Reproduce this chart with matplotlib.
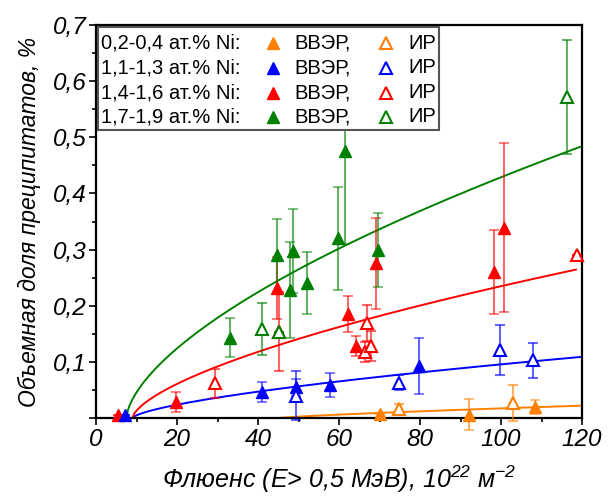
import numpy as np
import matplotlib
matplotlib.use("Agg")
import matplotlib.pyplot as plt
from matplotlib.ticker import MultipleLocator, FuncFormatter
from matplotlib.patches import Rectangle
from matplotlib.colors import to_rgba

plt.rcParams['font.family'] = ['Liberation Sans', 'DejaVu Sans']
plt.rcParams['mathtext.fontset'] = 'custom'
plt.rcParams['mathtext.rm'] = 'Liberation Sans:italic'
plt.rcParams['mathtext.it'] = 'Liberation Sans:italic'

# Группы по содержанию никеля
groups = ["0,2-0,4 ат.% Ni:", "1,1-1,3 ат.% Ni:", "1,4-1,6 ат.% Ni:", "1,7-1,9 ат.% Ni:"]
colors = ["#FF8000", "#0000FF", "#FF0000", "#008000"]

# ВВЭР (залитые треугольники): флюенс, объемная доля, погрешность
vver_x = [
    [70.0, 92.0, 108.5],
    [7.2, 41.0, 49.4, 57.8, 79.8],
    [5.4, 19.8, 44.6, 62.2, 64.3, 69.2, 98.3, 100.7],
    [33.1, 44.6, 47.9, 48.6, 52.0, 59.8, 61.6, 69.6],
]
vver_y = [
    [0.008, 0.006, 0.020],
    [0.005, 0.046, 0.055, 0.059, 0.093],
    [0.006, 0.029, 0.232, 0.186, 0.128, 0.276, 0.260, 0.339],
    [0.143, 0.290, 0.228, 0.297, 0.241, 0.320, 0.475, 0.299],
]
vver_err = [
    [0.0, 0.028, 0.012],
    [0.0, 0.018, 0.015, 0.022, 0.050],
    [0.0, 0.018, 0.055, 0.032, 0.018, 0.081, 0.075, 0.150],
    [0.035, 0.065, 0.085, 0.075, 0.055, 0.092, 0.165, 0.066],
]

# ИР (открытые треугольники)
ir_x = [
    [74.8, 103.0],
    [49.4, 74.8, 99.8, 107.9],
    [29.4, 45.2, 66.4, 66.8, 68.0, 118.8],
    [41.0, 45.2, 116.3],
]
ir_y = [
    [0.016, 0.027],
    [0.040, 0.063, 0.121, 0.103],
    [0.062, 0.154, 0.118, 0.170, 0.128, 0.290],
    [0.159, 0.153, 0.572],
]
ir_err = [
    [0.009, 0.032],
    [0.043, 0.013, 0.045, 0.031],
    [0.026, 0.070, 0.018, 0.032, 0.027, 0.0],
    [0.046, 0.0, 0.102],
]

# Аппроксимация y = a*(F - F0)^p
fit_a = [0.000696, 0.00487, 0.01309, 0.0259]
fit_f0 = [45.0, 9.0, 9.0, 7.5]
fit_p = [0.8, 0.66, 0.64, 0.62]
fit_fmax = [120.0, 120.0, 118.5, 120.0]

fig = plt.figure(figsize=(6.14, 4.98), dpi=100)
ax = fig.add_axes([0.1564, 0.1606, 0.7915, 0.7892])

for i, c in enumerate(colors):
    f = np.linspace(fit_f0[i], fit_fmax[i], 300)
    ax.plot(f, fit_a[i] * (f - fit_f0[i]) ** fit_p[i], color=c, lw=1.4, zorder=2)

draw_order = [0, 2, 1, 3]
for i in draw_order:
    c = colors[i]
    ec = to_rgba(c, 0.6)
    ax.errorbar(vver_x[i], vver_y[i], yerr=vver_err[i], fmt='^', color=c,
                ms=9, ecolor=ec, elinewidth=1.5, capsize=3.5, capthick=1.2,
                zorder=3, clip_on=False)
    ax.errorbar(ir_x[i], ir_y[i], yerr=ir_err[i], fmt='^', color=c, mfc='white',
                mec=c, mew=1.5, ms=8.5, ecolor=ec, elinewidth=1.5, capsize=3.5,
                capthick=1.2, zorder=3, clip_on=False)

ax.set_xlim(0, 120)
ax.set_ylim(0, 0.7)
ax.xaxis.set_major_locator(MultipleLocator(20))
ax.xaxis.set_minor_locator(MultipleLocator(10))
ax.yaxis.set_major_locator(MultipleLocator(0.1))
ax.yaxis.set_minor_locator(MultipleLocator(0.05))
ax.xaxis.set_major_formatter(FuncFormatter(lambda v, _: f"{v:.0f}"))
ax.yaxis.set_major_formatter(
    FuncFormatter(lambda v, _: "" if abs(v) < 1e-9 else f"{v:.1f}".replace('.', ',')))
ax.tick_params(which='major', length=5, width=1.2, labelsize=17.5, pad=2)
ax.tick_params(which='minor', length=3, width=1.2)
for lab in ax.get_xticklabels() + ax.get_yticklabels():
    lab.set_style('italic')
for s in ax.spines.values():
    s.set_linewidth(1.6)

ax.set_xlabel("Флюенс (E> 0,5 МэВ), 10$^{22}$ м$^{-2}$", fontsize=18,
              style='italic', labelpad=9)
ax.set_ylabel("Объемная доля преципитатов, %", fontsize=16.5,
              style='italic', labelpad=8)

# Легенда
ax.add_patch(Rectangle((0.004, 0.733), 0.702, 0.262, transform=ax.transAxes,
                       facecolor='white', edgecolor='#555555', lw=1.5, zorder=10))
row_y = [0.954, 0.891, 0.828, 0.766]
for i, g in enumerate(groups):
    y = row_y[i]
    ax.text(0.010, y, g, transform=ax.transAxes, fontsize=14.5, va='center',
            ha='left', zorder=11)
    ax.plot([0.364], [y], '^', color=colors[i], ms=8.5, transform=ax.transAxes,
            zorder=11, clip_on=False)
    ax.text(0.409, y, "ВВЭР,", transform=ax.transAxes, fontsize=14.5,
            va='center', ha='left', zorder=11)
    ax.plot([0.597], [y], '^', color=colors[i], mfc='white', mew=1.5, ms=8,
            transform=ax.transAxes, zorder=11, clip_on=False)
    ax.text(0.642, y, "ИР", transform=ax.transAxes, fontsize=14.5, va='center',
            ha='left', zorder=11)

fig.savefig("out.png", dpi=100)
